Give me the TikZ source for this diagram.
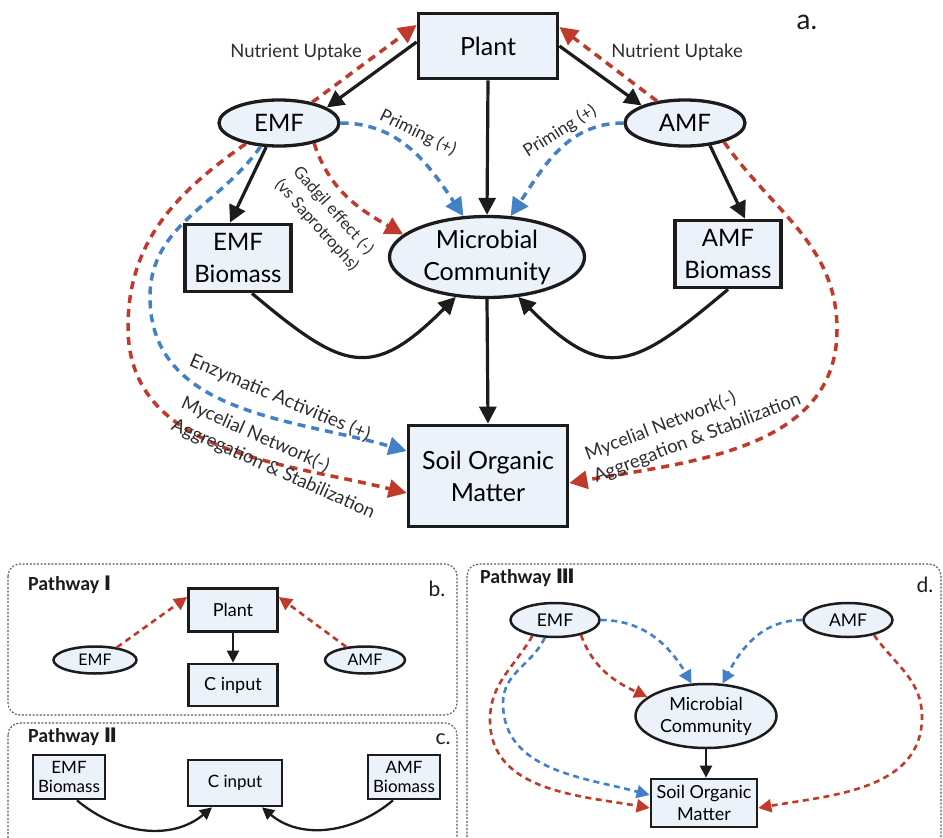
\documentclass[tikz,border=0pt]{standalone}
\usepackage{fontspec}
\setmainfont{Lato}
\newfontfamily\romfont{DejaVu Sans}
\newfontfamily\pwfont{Carlito}
\usetikzlibrary{arrows.meta,shapes.geometric}
\definecolor{myred}{RGB}{192,57,43}
\definecolor{myblue}{RGB}{66,128,200}
\definecolor{nfill}{RGB}{236,242,250}
\definecolor{lblack}{RGB}{28,28,28}
\definecolor{framegray}{RGB}{90,90,90}
\definecolor{lbltext}{RGB}{45,45,45}
\begin{document}
\begin{tikzpicture}[x=1pt,y=1pt,
  bigbox/.style={draw=lblack,line width=3.8pt,fill=nfill,inner sep=0pt,align=center,font=\fontsize{25}{32}\selectfont},
  bigell/.style={ellipse,draw=lblack,line width=3.3pt,fill=nfill,inner sep=0pt,align=center,font=\fontsize{25}{32}\selectfont},
  blk/.style={draw=lblack,line width=3.2pt,-{Triangle[length=17pt,width=17pt]}},
  rdash/.style={draw=myred,line width=3.5pt,dash pattern=on 8pt off 6pt,-{Triangle[length=18pt,width=18pt]}},
  bdash/.style={draw=myblue,line width=3.5pt,dash pattern=on 8pt off 6pt,-{Triangle[length=18pt,width=18pt]}},
  lbl/.style={font=\fontsize{18.5}{24}\selectfont,text=lbltext,inner sep=0pt,align=left},
  smbox/.style={draw=lblack,line width=2.7pt,fill=nfill,inner sep=0pt,align=center,font=\fontsize{17}{19}\selectfont},
  smell/.style={ellipse,draw=lblack,line width=2.5pt,fill=nfill,inner sep=0pt,align=center,font=\fontsize{16}{19}\selectfont},
  sblk/.style={draw=lblack,line width=2.3pt,-{Triangle[length=12pt,width=12pt]}},
  srdash/.style={draw=myred,line width=2.6pt,dash pattern=on 6pt off 4.5pt,-{Triangle[length=13pt,width=13pt]}},
  sbdash/.style={draw=myblue,line width=2.6pt,dash pattern=on 6pt off 4.5pt,-{Triangle[length=13pt,width=13pt]}},
  frame/.style={draw=framegray,line width=1.1pt,dash pattern=on 2pt off 1.6pt,rounded corners=12pt},
  pathlbl/.style={font=\pwfont\bfseries\fontsize{20}{22}\selectfont,text=lblack,inner sep=0pt,anchor=west},
  panlbl/.style={font=\fontsize{21}{24}\selectfont,text=lblack,inner sep=0pt}
]
\useasboundingbox (0,0) rectangle (943,-838);
\clip (0,0) rectangle (943,-838);

% ---------------- panel a ----------------
\node[bigbox,minimum width=139pt,minimum height=65pt] (plant) at (488,-46) {Plant};
\node[bigell,minimum width=120pt,minimum height=46pt,font=\fontsize{24}{30}\selectfont] (emf) at (279,-123) {EMF};
\node[bigell,minimum width=120pt,minimum height=46pt,font=\fontsize{24}{30}\selectfont] (amf) at (685,-123) {AMF};
\node[bigell,minimum width=195pt,minimum height=81pt] (mic) at (487,-257) {Microbial\\Community};
\node[bigbox,minimum width=106pt,minimum height=67pt,font=\fontsize{24}{32}\selectfont] (emfbio) at (238,-258) {EMF\\Biomass};
\node[bigbox,minimum width=106pt,minimum height=67pt,font=\fontsize{24}{32}\selectfont] (amfbio) at (728,-254) {AMF\\Biomass};
\node[bigbox,minimum width=159pt,minimum height=101pt] (som) at (488,-476) {Soil Organic\\Matter};
\node[font=\fontsize{28}{30}\selectfont,text=lblack,inner sep=0pt] (alab) at (807,-22) {a.};

% black arrows
\draw[blk] ([yshift=4pt]plant.west) -- (emf.18);
\draw[blk] (plant.east) -- (amf.158);
\draw[blk] (plant.south) -- (mic.north);
\draw[blk] (emf.242) -- ([xshift=-8pt]emfbio.north);
\draw[blk] (amf.318) -- ([xshift=17pt]amfbio.north);
\draw[blk] ([xshift=14pt]emfbio.south) to[out=-40,in=-135,looseness=1.5] (mic.232);
\draw[blk] (amfbio.south) to[out=-140,in=-45,looseness=1.5] (mic.308);
\draw[blk] (mic.south) -- (som.north);

% dashed arrows
\draw[rdash] (emf.32) -- ([yshift=21pt]plant.west);
\draw[rdash] (amf.142) -- ([yshift=19pt]plant.east);
\draw[bdash] (emf.east) to[out=0,in=124] (mic.120);
\draw[bdash] (amf.west) to[out=180,in=56] (mic.60);
\draw[rdash] (emf.330) to[out=-72,in=150] (mic.165);
\draw[rdash] (emf.212) to[out=-145,in=90] (128,-327) to[out=-90,in=166] ([yshift=-17pt]som.west);
\draw[bdash] (emf.232) to[out=-125,in=90] (150,-297) to[out=-90,in=164] ([yshift=25pt]som.west);
\draw[rdash] (amf.334) to[out=-55,in=90] (837,-330) to[out=-90,in=10] ([yshift=-7pt]som.east);

% labels
\node[lbl] (nu1) at (296,-52) {Nutrient Uptake};
\node[lbl] (nu2) at (677,-52) {Nutrient Uptake};
\node[lbl,font=\fontsize{17.5}{20}\selectfont,rotate=-26] (pr1) at (418,-133) {Priming (+)};
\node[lbl,font=\fontsize{17.5}{20}\selectfont,rotate=32] (pr2) at (560,-131) {Priming (+)};
\node[lbl,font=\fontsize{16.5}{22}\selectfont,align=center,rotate=-48] (gad) at (325,-218) {Gadgil effect (-)\\(vs Saprotrophs)};
\node[lbl,font=\fontsize{19}{24}\selectfont,rotate=-23] (enz) at (280,-398) {Enzymatic Activities (+)};
\node[lbl,rotate=-24] (myc1) at (278,-458) {Mycelial Network(-)\\Aggregation \& Stabilization};
\node[lbl,rotate=21] (myc2) at (693,-427) {Mycelial Network(-)\\Aggregation \& Stabilization};

% ---------------- panel b ----------------
\draw[frame] (8,-564) rectangle (457,-715);
\node[pathlbl] (pw1) at (28,-585) {Pathway {\romfont\bfseries Ⅰ}};
\node[panlbl] (blab) at (437,-589) {b.};
\node[smbox,minimum width=89pt,minimum height=43pt,font=\fontsize{18}{20}\selectfont] (plantb) at (233,-610) {Plant};
\node[smbox,minimum width=89pt,minimum height=42pt,font=\fontsize{18}{20}\selectfont] (cinb) at (233,-685) {C input};
\node[smell,minimum width=83pt,minimum height=27pt] (emfb) at (95,-660) {EMF};
\node[smell,minimum width=80pt,minimum height=27pt] (amfb) at (365,-660) {AMF};
\draw[srdash] (emfb.30) -- ([yshift=13pt]plantb.west);
\draw[srdash] (amfb.145) -- ([yshift=13pt]plantb.east);
\draw[sblk] (plantb.south) -- (cinb.north);

% ---------------- panel c ----------------
\draw[frame] (8,-723) rectangle (457,-860);
\node[pathlbl] (pw2) at (28,-737) {Pathway {\romfont\bfseries Ⅱ}};
\node[panlbl] (clab) at (443,-739) {c.};
\node[smbox,minimum width=72pt,minimum height=44pt] (emfc) at (69,-777) {EMF\\Biomass};
\node[smbox,minimum width=94pt,minimum height=46pt] (cinc) at (235,-783) {C input};
\node[smbox,minimum width=72pt,minimum height=44pt] (amfc) at (404,-777) {AMF\\Biomass};
\draw[sblk] ([xshift=8pt]emfc.south) to[out=-40,in=-140] ([xshift=-23pt]cinc.south);
\draw[sblk] ([xshift=-11pt]amfc.south) to[out=-140,in=-40] ([xshift=27pt]cinc.south);

% ---------------- panel d ----------------
\draw[frame] (467,-564) rectangle (941,-860);
\node[pathlbl] (pw3) at (480,-578) {Pathway {\romfont\bfseries Ⅲ}};
\node[panlbl] (dlab) at (925,-585) {d.};
\node[smell,minimum width=89pt,minimum height=34pt,font=\fontsize{17.5}{20}\selectfont] (emfd) at (555,-620) {EMF};
\node[smell,minimum width=89pt,minimum height=34pt,font=\fontsize{17.5}{20}\selectfont] (amfd) at (848,-620) {AMF};
\node[smell,minimum width=141pt,minimum height=64pt,font=\fontsize{18}{22}\selectfont] (micd) at (706,-716) {Microbial\\Community};
\node[smbox,minimum width=106pt,minimum height=48pt,font=\fontsize{18}{22}\selectfont] (somd) at (704,-803) {Soil Organic\\Matter};
\draw[sblk] (micd.south) -- (micd.south |- somd.north);
\draw[sbdash] (emfd.east) to[out=0,in=120] (micd.114);
\draw[sbdash] (amfd.west) to[out=180,in=62] (micd.63);
\draw[srdash] (emfd.330) to[out=-70,in=155] (micd.162);
\draw[srdash] (emfd.215) to[out=-120,in=90] (490,-720) to[out=-90,in=170] ([yshift=-5pt]somd.west);
\draw[sbdash] (emfd.240) to[out=-115,in=90] (503,-703) to[out=-90,in=165] ([yshift=8pt]somd.west);
\draw[srdash] (amfd.330) to[out=-55,in=90] (922,-717) to[out=-90,in=10] ([yshift=-5pt]somd.east);
\end{tikzpicture}
\end{document}
